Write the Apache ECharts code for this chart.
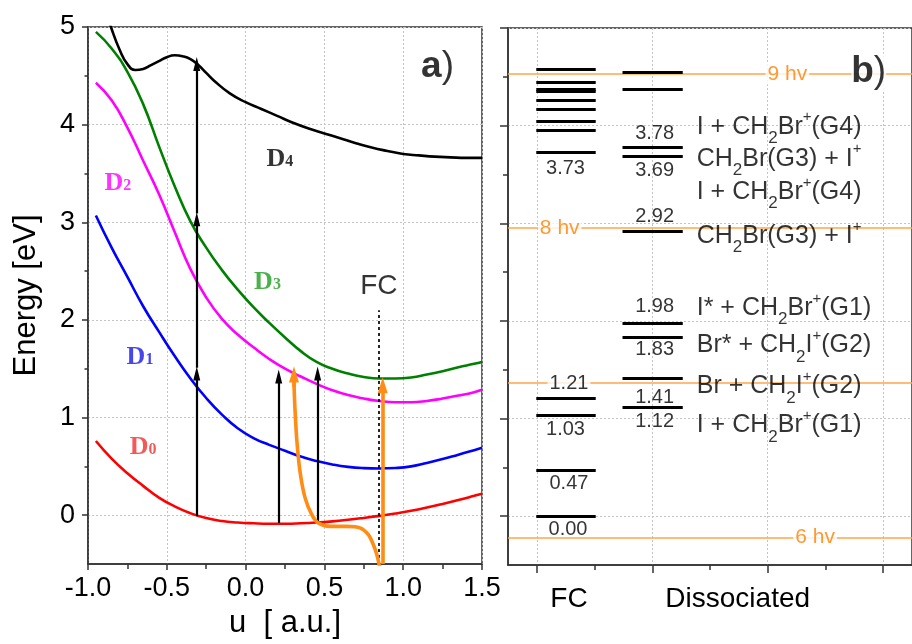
<!DOCTYPE html>
<html><head><meta charset="utf-8">
<script src="https://cdn.jsdelivr.net/npm/echarts@6/dist/echarts.min.js"></script>
<style>html,body{margin:0;padding:0;background:#fff}#c{width:912px;height:644px}</style>
</head><body><div id="c"></div>
<script>
// ---------- Panel a: potential curves (u [a.u.], Energy [eV]) ----------
const uGrid = [-0.95,-0.85,-0.75,-0.65,-0.55,-0.45,-0.35,-0.25,-0.15,-0.05,0.05,0.15,0.25,0.35,0.45,0.55,0.65,0.75,0.85,0.95,1.05,1.15,1.25,1.35,1.45,1.5];
const eD0 = [0.76,0.58,0.43,0.30,0.18,0.09,0.02,-0.03,-0.06,-0.075,-0.083,-0.087,-0.087,-0.083,-0.075,-0.063,-0.047,-0.028,-0.007,0.017,0.045,0.078,0.115,0.155,0.198,0.22];
const eD1 = [3.07,2.74,2.44,2.14,1.88,1.63,1.40,1.20,1.03,0.89,0.79,0.72,0.66,0.60,0.555,0.52,0.495,0.482,0.478,0.483,0.50,0.535,0.575,0.62,0.665,0.69];
const eD2 = [4.43,4.25,3.97,3.63,3.29,2.90,2.52,2.23,2.01,1.85,1.72,1.60,1.50,1.42,1.345,1.28,1.23,1.195,1.17,1.157,1.157,1.17,1.195,1.225,1.26,1.285];
const eD3 = [4.95,4.78,4.54,4.21,3.78,3.37,3.01,2.74,2.51,2.31,2.13,1.97,1.82,1.68,1.57,1.50,1.45,1.415,1.40,1.40,1.41,1.44,1.475,1.515,1.55,1.57];
const uD4 = [-0.89,-0.85,-0.80,-0.75,-0.70,-0.65,-0.60,-0.55,-0.50,-0.45,-0.40,-0.35,-0.30,-0.25,-0.20,-0.10,0.0,0.1,0.2,0.3,0.4,0.5,0.6,0.7,0.8,0.9,1.0,1.1,1.2,1.3,1.4,1.5];
const eD4 = [5.18,4.98,4.77,4.62,4.56,4.57,4.61,4.65,4.69,4.71,4.70,4.67,4.61,4.53,4.45,4.32,4.23,4.16,4.09,4.02,3.96,3.91,3.86,3.81,3.765,3.73,3.70,3.685,3.672,3.665,3.66,3.66];
const curveColors = ['#ff0000','#0000ff','#ff00ff','#008000','#000000'];
const curveNames = ['D0','D1','D2','D3','D4'];

// orange wavepacket path (starts below the arrow tip and runs down to the bottom)
const uOrange = [0.307,0.308,0.312,0.324,0.345,0.377,0.42,0.461,0.536,0.64,0.726,0.779,0.81,0.832,0.848,0.856];
const eOrange = [1.42,1.30,1.13,0.79,0.45,0.18,0.005,-0.08,-0.115,-0.115,-0.13,-0.20,-0.30,-0.40,-0.51,-0.58];
const orangeTip = [0.307, 1.51];
const orangeArrowU = 0.87, orangeArrowFrom = -0.5, orangeArrowTo = 1.40;

// black photon arrows: [u, fromE, toE]
const arrows = [[-0.31,-0.01,1.51],[-0.31,1.51,3.09],[-0.31,3.09,4.68],[0.21,-0.08,1.48],[0.457,-0.07,1.51]];
const fcLineU = 0.842, fcLineTop = 2.10;

// text annotations panel a
const curveLabelU = [-0.65,-0.67,-0.81,0.139,0.218];
const curveLabelE = [0.71,1.63,3.41,2.40,3.66];
const curveLabelColors = ['#f03030','#1818e8','#ff00ff','#1f9e1f','#000000'];

// ---------- Panel b: energy levels ----------
const fcLevels = [4.58,4.44,4.37,4.35,4.26,4.17,4.04,3.95,3.73,1.21,1.03,0.47,0.00];
const dsLevels = [4.55,4.37,3.78,3.69,2.92,1.98,1.83,1.41,1.12];
const fcSpan = [0.995,1.51];
const dsSpan = [1.742,2.264];
const hvE = [4.528,2.95,1.368,-0.216];
const hvText = ['9 hv','8 hv','','6 hv'];
const hvLabelX = [3.17,1.198,0,3.41];
const fcValText = ['3.73','1.21','1.03','0.47','0.00'];
const fcValE = [3.56,1.36,0.89,0.33,-0.14];
const fcValX = [1.248,1.278,1.248,1.278,1.27];
const dsValText = ['3.78','3.69','2.92','1.98','1.83','1.41','1.12'];
const dsValE = [3.92,3.54,3.07,2.15,1.71,1.22,0.97];
const dsValX = 2.02;
const speciesText = ['I + CH_2Br^+(G4)','CH_2Br(G3) + I^+','I + CH_2Br^+(G4)','CH_2Br(G3) + I^+','I* + CH_2Br^+(G1)','Br* + CH_2I^+(G2)','Br + CH_2I^+(G2)','I + CH_2Br^+(G1)'];
const speciesE = [3.99,3.66,3.32,2.87,2.13,1.75,1.33,0.93];
const speciesX = 2.385;
const bCategories = ['FC','Dissociated'];
const bCategoryX = [1.278,2.74];

const SANS = '"Liberation Sans", Arial, Helvetica, sans-serif';
const SERIF = '"Liberation Serif", "Times New Roman", serif';
const headOff = 0.06;

const zip = (a,b) => a.map((v,i)=>[v,b[i]]);
const toRich = s => s.replace(/_2/g,'{s|2}').replace(/\^\+/g,'{p|+}');

const chart = echarts.init(document.getElementById('c'), null, {renderer:'canvas'});

const axisLineStyle = {color:'#333', width:1.5};
const gridLine = {show:true, lineStyle:{color:'#c4c4c4', width:1, type:[2,2]}};

const series = [];
// curves
[eD0,eD1,eD2,eD3,eD4].forEach((E,i)=>{
  const U = i===4 ? uD4 : uGrid;
  series.push({type:'line', name:curveNames[i], xAxisIndex:0, yAxisIndex:0, data:zip(U,E), smooth:0.5, showSymbol:false, clip:true,
    lineStyle:{color:curveColors[i], width:2.6}, silent:true, z:3});
});
// FC dotted line
series.push({type:'line', xAxisIndex:0, yAxisIndex:0, data:[], silent:true, z:4,
  markLine:{silent:true, symbol:['none','none'], label:{show:false},
    lineStyle:{color:'#111', width:1.8, type:[3,3]},
    data:[[{coord:[fcLineU,-0.5]},{coord:[fcLineU,fcLineTop]}]]}});
// black arrows
series.push({type:'line', xAxisIndex:0, yAxisIndex:0, data:[], silent:true, z:5,
  markLine:{silent:true, symbol:['none','triangle'], symbolSize:[7,14], label:{show:false},
    lineStyle:{color:'#000', width:2.2, type:'solid'},
    data:arrows.map(a=>[{coord:[a[0],a[1]]},{coord:[a[0],a[2]-headOff]}])}});
// orange path
series.push({type:'line', xAxisIndex:0, yAxisIndex:0, data:zip(uOrange,eOrange), smooth:0.3, showSymbol:false, clip:true,
  lineStyle:{color:'#ff8c14', width:3.6}, silent:true, z:6,
  markLine:{silent:true, symbol:['none','triangle'], symbolSize:[10,16], label:{show:false},
    lineStyle:{color:'#ff8c14', width:3.6, type:'solid'},
    data:[[{coord:[orangeTip[0],orangeTip[1]-0.2]},{coord:[orangeTip[0],orangeTip[1]-headOff-0.01]}],
          [{coord:[orangeArrowU,orangeArrowFrom]},{coord:[orangeArrowU,orangeArrowTo-headOff-0.01]}]]}});
// panel a text
const aText = curveNames.map((n,i)=>({value:[curveLabelU[i],curveLabelE[i]],
  label:{formatter:'{d|D}{n|'+n.slice(1)+'}', rich:{
    d:{fontFamily:SERIF, fontWeight:'bold', fontSize:26, color:curveLabelColors[i], verticalAlign:'bottom', lineHeight:28},
    n:{fontFamily:SERIF, fontWeight:'bold', fontSize:16, color:curveLabelColors[i], verticalAlign:'bottom', lineHeight:28, padding:[0,0,2,0]}}}}));
aText.push({value:[0.846,2.34], label:{formatter:'FC', fontFamily:SANS, fontSize:28, color:'#000'}});
aText.push({value:[1.218,4.59], label:{formatter:'{b|a}{n|)}', rich:{
  b:{fontFamily:SANS, fontWeight:'bold', fontSize:37, color:'#000'}, n:{fontFamily:SANS, fontSize:37, color:'#000'}}}});
series.push({type:'scatter', xAxisIndex:0, yAxisIndex:0, symbolSize:1, itemStyle:{color:'rgba(0,0,0,0)'}, silent:true, z:10,
  label:{show:true, position:'inside', align:'center', verticalAlign:'middle'}, data:aText});

// panel b: hv lines
series.push({type:'line', xAxisIndex:1, yAxisIndex:2, data:[], silent:true, z:3,
  markLine:{silent:true, symbol:['none','none'], label:{show:false},
    lineStyle:{color:'#ffa64d', width:1.6, type:'solid'},
    data:hvE.map(e=>[{coord:[0.75,e]},{coord:[4.25,e]}])}});
// levels
series.push({type:'line', xAxisIndex:1, yAxisIndex:2, data:[], silent:true, z:5,
  markLine:{silent:true, symbol:['none','none'], label:{show:false},
    lineStyle:{color:'#000', width:3.2, type:'solid'},
    data:fcLevels.map(e=>[{coord:[fcSpan[0],e]},{coord:[fcSpan[1],e]}])
      .concat(dsLevels.map(e=>[{coord:[dsSpan[0],e]},{coord:[dsSpan[1],e]}]))}});
// panel b texts
const bText = [];
hvText.forEach((t,i)=>{ if(t) bText.push({value:[hvLabelX[i],hvE[i]], label:{formatter:t, fontSize:21, color:'#ff8000', backgroundColor:'#fff', padding:[0,2]}}); });
fcValText.forEach((t,i)=>bText.push({value:[fcValX[i],fcValE[i]], label:{formatter:t, fontSize:20, color:'#000',
  backgroundColor: t==='1.21' ? '#fff' : 'transparent', padding:[0,2]}}));
dsValText.forEach((t,i)=>bText.push({value:[dsValX,dsValE[i]], label:{formatter:t, fontSize:20, color:'#000'}}));
speciesText.forEach((t,i)=>bText.push({value:[speciesX,speciesE[i]], label:{formatter:toRich(t), align:'left', fontSize:25, lineHeight:40, color:'#000',
  rich:{s:{fontFamily:SANS, fontSize:17, color:'#000', verticalAlign:'bottom', lineHeight:17},
        p:{fontFamily:SANS, fontSize:15, color:'#000', verticalAlign:'top', lineHeight:15, padding:[3,0,0,0]}}}}));
bText.push({value:[3.875,4.55], label:{formatter:'{b|b}{n|)}', backgroundColor:'#fff', rich:{
  b:{fontFamily:SANS, fontWeight:'bold', fontSize:37, color:'#000'}, n:{fontFamily:SANS, fontSize:37, color:'#000'}}}});
series.push({type:'scatter', xAxisIndex:1, yAxisIndex:2, symbolSize:1, itemStyle:{color:'rgba(0,0,0,0)'}, silent:true, z:10,
  label:{show:true, position:'inside', align:'center', verticalAlign:'middle', fontFamily:SANS}, data:bText});

const option = {
  animation:false,
  backgroundColor:'#fff',
  textStyle:{fontFamily:SANS},
  grid:[
    {left:88, top:27, width:394, height:537, show:true, borderColor:'#333', borderWidth:1.5},
    {left:508, top:28, width:413, height:537, show:true, borderColor:'#333', borderWidth:1.5}
  ],
  xAxis:[
    {gridIndex:0, type:'value', min:-1, max:1.5, interval:0.5,
      axisLine:{onZero:false, lineStyle:axisLineStyle},
      axisTick:{length:6, lineStyle:axisLineStyle},
      minorTick:{show:true, splitNumber:2, length:5, lineStyle:{color:'#333', width:1.5}},
      axisLabel:{fontSize:27, color:'#000', margin:11, formatter:v=>v.toFixed(1)},
      splitLine:gridLine,
      name:'u  [ a.u.]', nameLocation:'middle', nameGap:44, nameTextStyle:{fontSize:31, color:'#000'}},
    {gridIndex:1, type:'value', min:0.75, max:4.25,
      axisLine:{onZero:false, lineStyle:axisLineStyle},
      axisTick:{customValues:[1,2,3,4], length:8, lineStyle:axisLineStyle},
      axisLabel:{customValues:bCategoryX, fontSize:28, color:'#000', margin:20,
        formatter:v=>bCategories[bCategoryX.indexOf(v)]},
      splitLine:gridLine},
    {gridIndex:1, type:'value', min:0.75, max:4.25, position:'bottom',
      axisLine:{show:false, onZero:false}, axisTick:{customValues:[1.5,2.5,3.5], length:5, lineStyle:axisLineStyle},
      axisLabel:{show:false}, splitLine:{show:false}}
  ],
  yAxis:[
    {gridIndex:0, type:'value', min:-0.5, max:5, position:'left',
      axisLine:{show:true, onZero:false, lineStyle:axisLineStyle},
      axisTick:{show:true, customValues:[0,1,2,3,4,5], length:6, lineStyle:axisLineStyle},
      axisLabel:{customValues:[0,1,2,3,4,5], fontSize:27, color:'#000', margin:13},
      splitLine:gridLine,
      name:'Energy [eV]', nameLocation:'middle', nameGap:46, nameTextStyle:{fontSize:31, color:'#000'}},
    {gridIndex:0, type:'value', min:-0.5, max:5, position:'left',
      axisLine:{show:false, onZero:false}, axisTick:{show:true, customValues:[0.5,1.5,2.5,3.5,4.5], length:3.5, lineStyle:axisLineStyle},
      axisLabel:{show:false}, splitLine:{show:false}},
    {gridIndex:1, type:'value', min:-0.5, max:5, position:'left',
      axisLine:{show:true, onZero:false, lineStyle:axisLineStyle},
      axisTick:{show:true, customValues:[0,1,2,3,4,5], length:8, lineStyle:axisLineStyle},
      axisLabel:{show:false}, splitLine:gridLine},
    {gridIndex:1, type:'value', min:-0.5, max:5, position:'left',
      axisLine:{show:false, onZero:false}, axisTick:{show:true, customValues:[0.5,1.5,2.5,3.5,4.5], length:5, lineStyle:axisLineStyle},
      axisLabel:{show:false}, splitLine:{show:false}}
  ],
  series:series
};
chart.setOption(option);
</script>
</body></html>
